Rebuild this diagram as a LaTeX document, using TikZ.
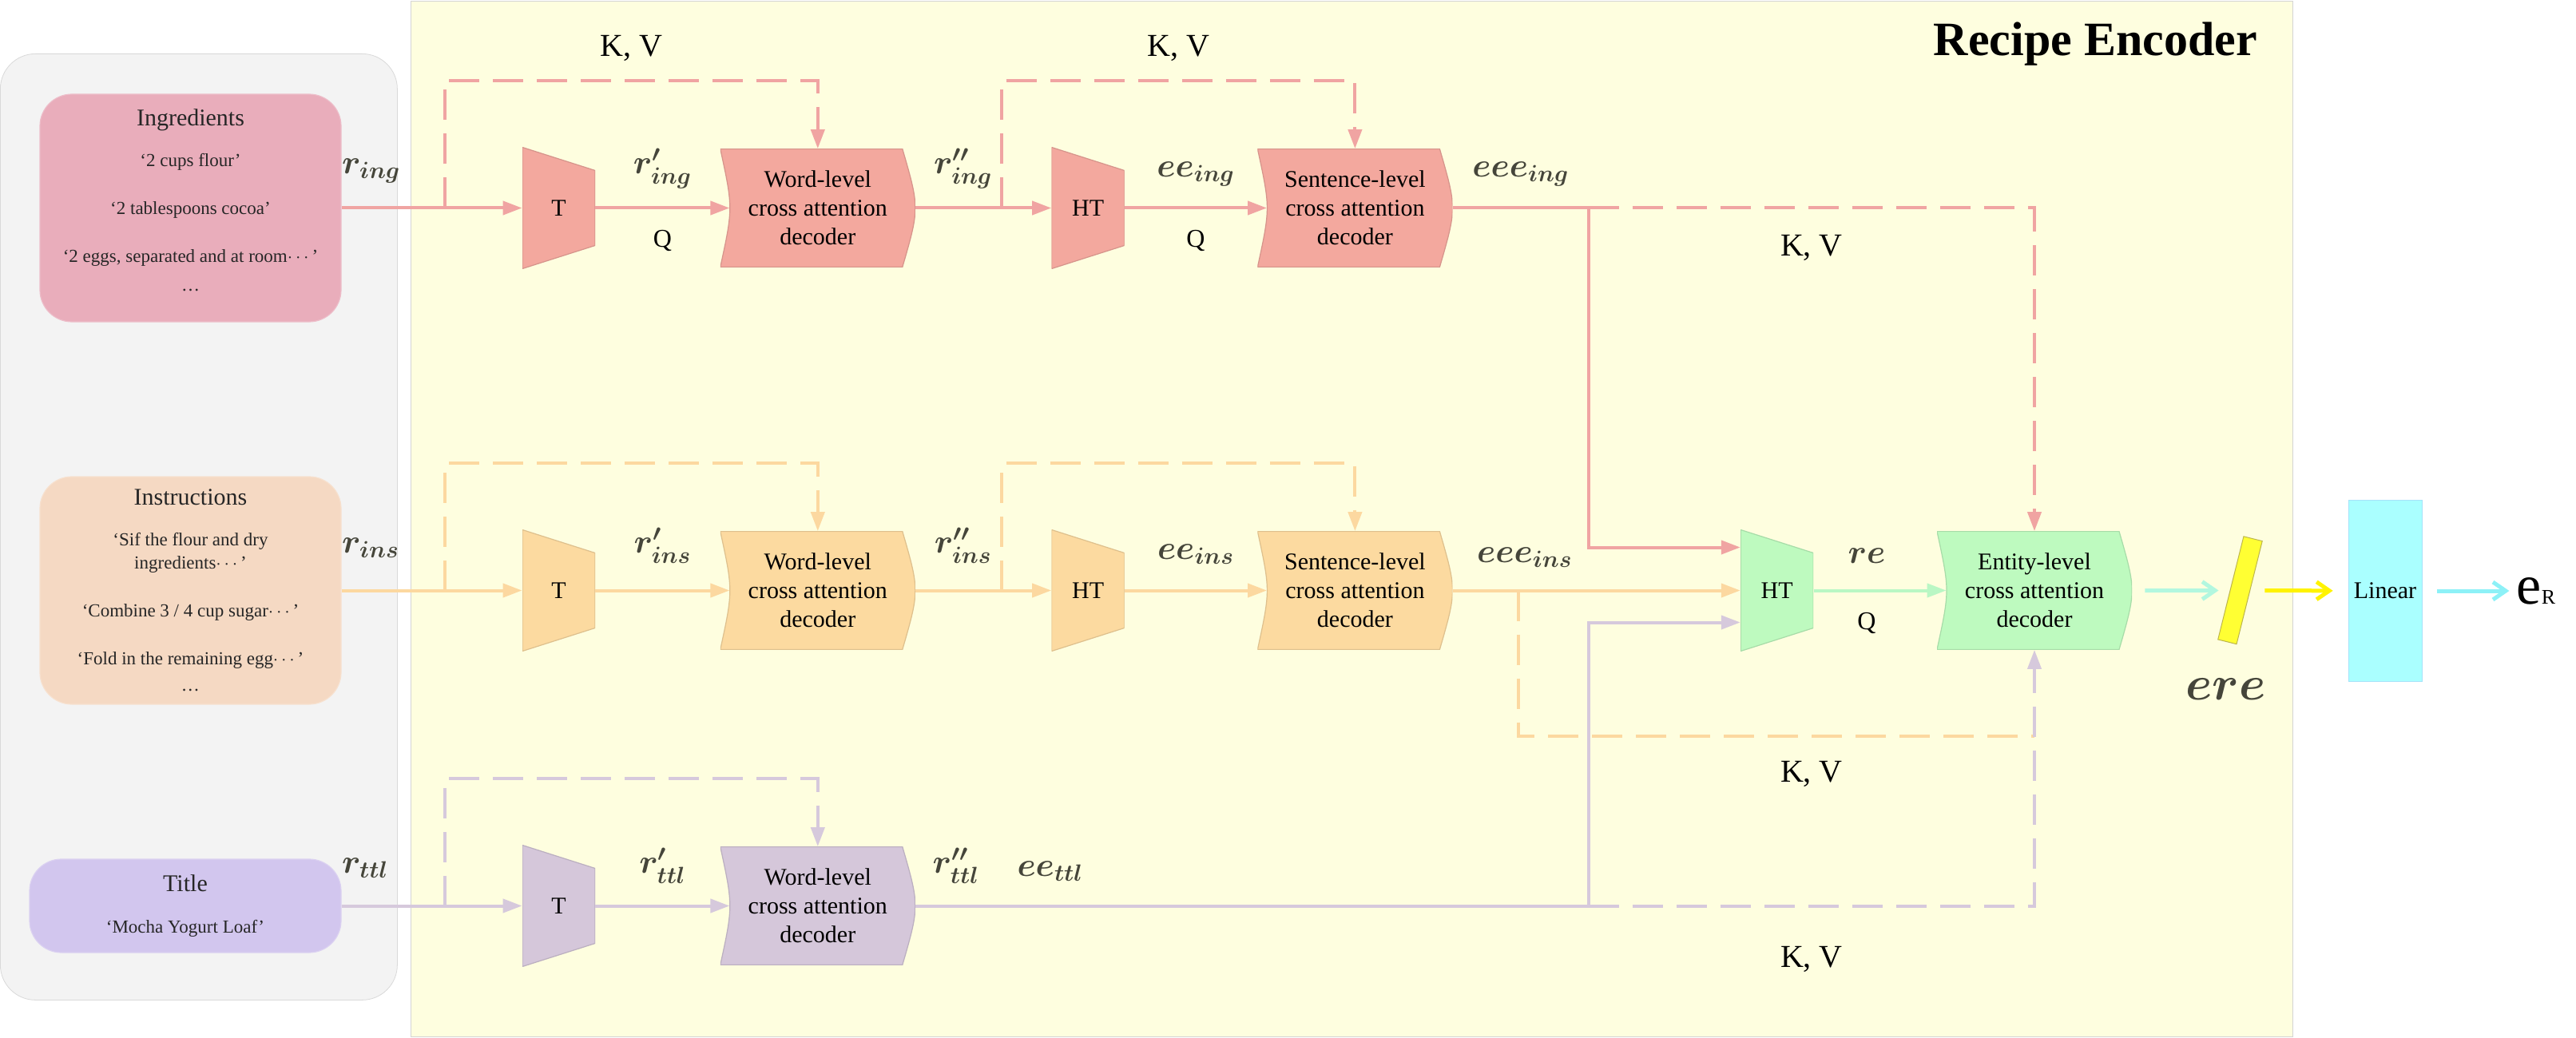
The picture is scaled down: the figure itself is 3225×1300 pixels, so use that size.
\RequirePackage{fix-cm}
\documentclass[tikz,border=0pt]{standalone}
\usepackage{amsmath,mathtools}
\usepackage{fontspec}
\setmainfont{Liberation Serif}
\usetikzlibrary{calc,positioning,arrows.meta,shapes.geometric}

\definecolor{srcpanel}{HTML}{F3F3F3}
\definecolor{encpanel}{HTML}{FEFEDF}
\definecolor{ingbox}{HTML}{E9ADBB}
\definecolor{insbox}{HTML}{F5D9C3}
\definecolor{ttlbox}{HTML}{D2C6EE}
\definecolor{ingcol}{HTML}{F3A89E}
\definecolor{inscol}{HTML}{FCDAA0}
\definecolor{ttlcol}{HTML}{D5C7DA}
\definecolor{entcol}{HTML}{BEFABF}
\definecolor{ingline}{HTML}{F0A4A2}
\definecolor{insline}{HTML}{FCD8A0}
\definecolor{ttlline}{HTML}{D6C9DC}
\definecolor{entline}{HTML}{B9F7C4}
\definecolor{aqualine}{HTML}{B2F7DF}
\definecolor{barcol}{HTML}{FFFF33}
\definecolor{yelline}{HTML}{FFF300}
\definecolor{lincol}{HTML}{AAFFFF}
\definecolor{cyanline}{HTML}{8DF1F7}
\definecolor{lblcol}{HTML}{45453A}

\tikzset{
  srcbox/.style={rounded corners=20pt, fill=#1, draw=#1!80!white, line width=0.6pt,
    minimum width=188.5pt, align=center, inner sep=0pt, text=black!85,
    font=\fontsize{11.5}{30}\selectfont},
  trap/.style={minimum width=45.5pt, minimum height=76pt, inner sep=0pt,
    font=\fontsize{15}{18}\selectfont,
    path picture={\filldraw[fill=#1, draw=#1!88!black, line width=0.6pt]
      (path picture bounding box.north west) -- (path picture bounding box.south west)
      -- ([yshift=14.5pt]path picture bounding box.south east)
      -- ([yshift=-14.5pt]path picture bounding box.north east) -- cycle;}},
  decoder/.style={minimum width=122pt, minimum height=74pt, inner sep=0pt, align=center,
    font=\fontsize{15}{18}\selectfont,
    path picture={\filldraw[fill=#1, draw=#1!88!black, line width=0.6pt]
      (path picture bounding box.north west)
      .. controls ([xshift=8pt]path picture bounding box.west) .. (path picture bounding box.south west)
      -- ([xshift=-8pt]path picture bounding box.south east)
      .. controls ([xshift=2.7pt]path picture bounding box.east) .. ([xshift=-8pt]path picture bounding box.north east)
      -- cycle;}},
  conn/.style={color=#1, line width=2pt, -{Triangle[length=12pt, width=8.5pt]}},
  kv/.style={color=#1, line width=2pt, dash pattern=on 19pt off 8.5pt, -{Triangle[length=12pt, width=8.5pt]}},
  flow/.style={color=#1, line width=2.5pt, -{Straight Barb[length=8pt, width=11pt]}},
  lbl/.style={inner sep=0pt, text=lblcol, font=\fontsize{21}{21}\selectfont\boldmath},
  kvlbl/.style={inner sep=0pt, font=\fontsize{20}{20}\selectfont},
  qlbl/.style={inner sep=0pt, font=\fontsize{16}{16}\selectfont}
}

\begin{document}
\begin{tikzpicture}[x=0.5pt, y=-0.5pt]
  \useasboundingbox (0,0) rectangle (3225,1300);

  \node[fill=srcpanel, draw=black!15, rounded corners=22pt, minimum width=248.5pt, minimum height=592.5pt, anchor=north west](src) at (0,67){};
  \node[fill=encpanel, draw=black!17, minimum width=1178pt, minimum height=648.5pt, anchor=north west](enc) at (514,1){};
  \node[anchor=base east, font=\fontsize{30}{30}\selectfont\bfseries](enctitle) at ([xshift=-19pt, yshift=-34.5pt]enc.north east){Recipe Encoder};

  \node[srcbox=ingbox, minimum height=142.5pt, text depth=10pt](ing) at (238.5,260.5){{\fontsize{15}{18}\selectfont Ingredients}\\[-4.5pt]‘2 cups flour’\\‘2 tablespoons cocoa’\\‘2 eggs, separated and at room$\cdots$’\\[-12pt]…};
  \node[srcbox=insbox, minimum height=142.5pt](ins) at (238.5,739.5){{\fontsize{15}{18}\selectfont Instructions}\\[-4.5pt]‘Sif the flour and dry\\[-15.5pt]ingredients$\cdots$’\\‘Combine 3 / 4 cup sugar$\cdots$’\\‘Fold in the remaining egg$\cdots$’\\[-13.5pt]…};
  \node[srcbox=ttlbox, minimum width=195pt, minimum height=58.5pt](ttl) at (232,1134.5){{\fontsize{15}{18}\selectfont Title}\\[-4pt]‘Mocha Yogurt Loaf’};

  \node[trap=ingcol, right=113pt of ing](T1){T};
  \node[decoder=ingcol, right=78pt of T1](w1){Word-level\\cross attention\\decoder};
  \node[trap=ingcol, right=85pt of w1](HT1){HT};
  \node[decoder=ingcol, right=83pt of HT1](s1){Sentence-level\\cross attention\\decoder};

  \node[trap=inscol, right=113pt of ins](T2){T};
  \node[decoder=inscol, right=78pt of T2](w2){Word-level\\cross attention\\decoder};
  \node[trap=inscol, right=85pt of w2](HT2){HT};
  \node[decoder=inscol, right=83pt of HT2](s2){Sentence-level\\cross attention\\decoder};

  \node[trap=ttlcol, right=113pt of ttl](T3){T};
  \node[decoder=ttlcol, right=78pt of T3](w3){Word-level\\cross attention\\decoder};

  \node[trap=entcol, right=180pt of s2](HT3){HT};
  \node[decoder=entcol, right=77pt of HT3](ent){Entity-level\\cross attention\\decoder};
  \node[cylinder, rotate=76, minimum width=12pt, minimum height=66.5pt, aspect=0.3, inner sep=0pt, fill=barcol, draw=olive!60, line width=0.5pt](bar) at ($(ent.east)+(135,0)$){};
  \node[fill=lincol, draw=cyan!35, minimum width=46pt, minimum height=113.5pt, font=\fontsize{15}{18}\selectfont](lin) at (2986,740){Linear};
  \node[right=59pt of lin, inner sep=0pt, font=\fontsize{35}{35}\selectfont](eR){e\fontsize{13}{13}\selectfont R};

  \coordinate[left=48.5pt of T1](a1);
  \coordinate[left=31pt of HT1](c1);
  \coordinate[right=85pt of s1](j1);
  \coordinate (k1) at (ent |- j1);
  \coordinate (h1) at ($(HT3.west)+(0,-54)$);
  \coordinate[left=48.5pt of T2](a2);
  \coordinate[left=31pt of HT2](c2);
  \coordinate[right=41pt of s2](d2);
  \coordinate[left=48.5pt of T3](a3);
  \coordinate (j3) at (j1 |- w3);
  \coordinate (k3) at (ent |- j3);
  \coordinate (h3) at ($(HT3.west)+(0,40)$);

  \path[conn=ingline]
  (ing) edge (T1)
  (T1) edge ([xshift=6pt]w1.west)
  (w1) edge (HT1)
  (HT1) edge ([xshift=6pt]s1.west);
  \draw[kv=ingline] (a1) |- ([yshift=42.5pt]w1.north) -- (w1);
  \draw[kv=ingline] (c1) |- ([yshift=42.5pt]s1.north) -- (s1);
  \draw[conn=ingline] (s1) -- (j1) |- (h1);
  \draw[kv=ingline] (j1) -- (k1) -- (ent);

  \path[conn=insline]
  (ins) edge (T2)
  (T2) edge ([xshift=6pt]w2.west)
  (w2) edge (HT2)
  (HT2) edge ([xshift=6pt]s2.west)
  (s2) edge (HT3);
  \draw[kv=insline] (a2) |- ([yshift=42.5pt]w2.north) -- (w2);
  \draw[kv=insline] (c2) |- ([yshift=42.5pt]s2.north) -- (s2);
  \draw[kv=insline, -] (d2) |- ($(ent.south)+(0,108)$);

  \path[conn=ttlline]
  (ttl) edge (T3)
  (T3) edge ([xshift=6pt]w3.west);
  \draw[kv=ttlline] (a3) |- ([yshift=42.5pt]w3.north) -- (w3);
  \draw[conn=ttlline] (w3) -- (j3) |- (h3);
  \draw[kv=ttlline] (j3) -- (k3) -- (ent);

  \path[conn=entline] (HT3) edge ([xshift=6pt]ent.west);
  \path[flow=aqualine] (ent) edge[shorten <=8pt, shorten >=7pt] (bar);
  \path[flow=yelline] (bar) edge[shorten <=9pt, shorten >=9.5pt] (lin);
  \path[flow=cyanline] (lin) edge[shorten <=9.5pt, shorten >=4.5pt] (lin -| eR.west);

  \node[lbl, above=21.5pt of ing.east, anchor=base west](ring){$r_{ing}$};
  \node[lbl, above={21.5pt of $(T1.east)!0.5!([xshift=6pt]w1.west)$}, anchor=base](rp1){$r^{\prime}_{ing}$};
  \node[qlbl, below={13.5pt of $(T1.east)!0.5!([xshift=6pt]w1.west)$}](q1){Q};
  \node[lbl, above={21.5pt of $(w1.east)!0.35!(HT1.west)$}, anchor=base](rpp1){$r^{\prime\prime}_{ing}$};
  \node[lbl, above={19.5pt of $(HT1.east)!0.5!([xshift=6pt]s1.west)$}, anchor=base](ee1){$ee_{ing}$};
  \node[qlbl, below={13.5pt of $(HT1.east)!0.5!([xshift=6pt]s1.west)$}](q2){Q};
  \node[lbl, above={19.5pt of $(s1.east)!0.5!(j1)$}, anchor=base](eee1){$eee_{ing}$};
  \node[kvlbl, above={95pt of $(a1)!0.5!(w1)$}, anchor=base](kv1){K, V};
  \node[kvlbl, above={95pt of $(c1)!0.5!(s1)$}, anchor=base](kv2){K, V};
  \node[kvlbl, below={30pt of $(j1)!0.5!(k1)$}, anchor=base](kv3){K, V};

  \node[lbl, above=23.5pt of ins.east, anchor=base west](rins){$r_{ins}$};
  \node[lbl, above={23.5pt of $(T2.east)!0.5!([xshift=6pt]w2.west)$}, anchor=base](rp2){$r^{\prime}_{ins}$};
  \node[lbl, above={23.5pt of $(w2.east)!0.35!(HT2.west)$}, anchor=base](rpp2){$r^{\prime\prime}_{ins}$};
  \node[lbl, above={19.5pt of $(HT2.east)!0.5!([xshift=6pt]s2.west)$}, anchor=base](ee2){$ee_{ins}$};
  \node[lbl, above={17.5pt of $(s2.east)!0.25!(HT3.west)$}, anchor=base](eee2){$eee_{ins}$};
  \node[kvlbl, below={120pt of $(HT3.west -| j1)!0.5!(HT3.west -| ent)$}, anchor=base](kv4){K, V};

  \node[lbl, above=20.5pt of ttl.east, anchor=base west](rttl){$r_{ttl}$};
  \node[lbl, above={20.5pt of $(T3.east)!0.5!([xshift=6pt]w3.west)$}, anchor=base](rp3){$r^{\prime}_{ttl}$};
  \node[lbl, above={20.5pt of $(w3.east)!0.06!(j3)$}, anchor=base](rpp3){$r^{\prime\prime}_{ttl}$};
  \node[lbl, above={18.5pt of $(w3.east)!0.2!(j3)$}, anchor=base](ee3){$ee_{ttl}$};
  \node[kvlbl, below={38.5pt of $(j3)!0.5!(k3)$}, anchor=base](kv5){K, V};

  \node[lbl, above={17pt of $(HT3.east)!0.4!([xshift=6pt]ent.west)$}, anchor=base](re){$re$};
  \node[qlbl, below={13.5pt of $(HT3.east)!0.4!([xshift=6pt]ent.west)$}](q3){Q};
  \node[lbl, font=\fontsize{30}{30}\selectfont\boldmath, anchor=base](ere) at ($(bar)+(-18,137)$){$ere$};
\end{tikzpicture}
\end{document}
